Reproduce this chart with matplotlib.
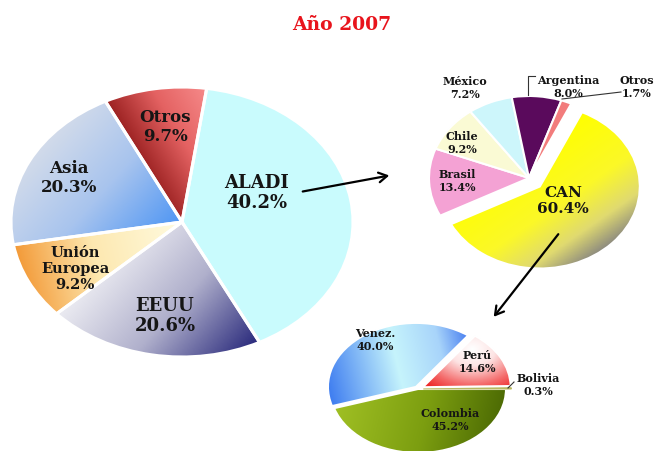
#!/usr/bin/env python3

import numpy as np
import matplotlib
matplotlib.use('Agg')
import matplotlib.pyplot as plt
from matplotlib.colors import LinearSegmentedColormap


# ---- data ----
main_names = ['ALADI', 'EEUU', 'Unión\nEuropea', 'Asia', 'Otros']
main_vals = [40.2, 20.6, 9.2, 20.3, 9.7]

aladi_names = ['CAN', 'Brasil', 'Chile', 'México', 'Argentina', 'Otros']
aladi_vals = [60.4, 13.4, 9.2, 7.2, 8.0, 1.7]

can_names = ['Colombia', 'Venez.', 'Perú', 'Bolivia']
can_vals = [45.2, 40.0, 14.6, 0.3]

W, H = 656, 452
FONT = 'DejaVu Serif'
TXT = '#151515'

fig = plt.figure(figsize=(W / 100, H / 100), dpi=100)
fig.patch.set_facecolor('white')

# overlay axes in pixel coords for title, labels, arrows
ax_bg = fig.add_axes([0, 0, 1, 1])
ax_bg.set_xlim(0, W)
ax_bg.set_ylim(H, 0)
ax_bg.axis('off')
ax_bg.set_zorder(5)
ax_bg.patch.set_alpha(0)


def pie_axes(cx, cy, rx, ry, pad=1.35):
  ax = fig.add_axes([(cx - rx * pad) / W, (H - (cy + ry * pad)) / H,
                     2 * rx * pad / W, 2 * ry * pad / H])
  return ax, pad


def finish(ax, pad):
  ax.set_xlim(-pad, pad)
  ax.set_ylim(-pad, pad)
  ax.set_aspect('auto')
  ax.axis('off')


def grad_fill(ax, wedge, stops, angle, pad, radial=None):
  xs = np.linspace(-pad, pad, 300)
  X, Y = np.meshgrid(xs, xs)
  if radial is None:
    th = np.deg2rad(angle)
    d = np.array([np.cos(th), np.sin(th)])
    verts = wedge.get_patch_transform().transform(wedge.get_path().vertices)
    proj = verts @ d
    lo, hi = proj.min(), proj.max()
    t = ((X * d[0] + Y * d[1]) - lo) / (hi - lo)
  else:
    (px, py), rmax = radial
    t = np.hypot(X - px, Y - py) / rmax
  cmap = LinearSegmentedColormap.from_list('g', stops)
  im = ax.imshow(np.clip(t, 0, 1), extent=(-pad, pad, -pad, pad), origin='lower',
                 cmap=cmap, vmin=0, vmax=1, aspect='auto', interpolation='bilinear',
                 zorder=0.5)
  im.set_clip_path(wedge)
  wedge.set_facecolor('none')


def label(x, y, name, val, size):
  ax_bg.text(x, y, '{}\n{:.1f}%'.format(name, val), ha='center', va='center',
             family=FONT, weight='bold', fontsize=size, color=TXT, linespacing=1.15)


# ---- title ----
ax_bg.text(342, 25, 'Año 2007', ha='center', va='center', family=FONT,
           weight='bold', fontsize=13.5, color='#e8141c')

# ---- main pie ----
ax1, p1 = pie_axes(182, 223, 171, 135)
main_cols = ['#c9fbfd', '#8888b0', '#ffe8a0', '#90b8f0', '#d05050']
w1, _ = ax1.pie(main_vals, colors=main_cols, startangle=81.7, counterclock=False,
                wedgeprops=dict(edgecolor='white', linewidth=2.2))
grad_fill(ax1, w1[1], ['#ececf2', '#b0b0cc', '#2a2a7c'], -35, p1)
grad_fill(ax1, w1[2], [(0, '#f39a38'), (0.45, '#fde8b0'), (1, '#fffbe0')], 10, p1)
grad_fill(ax1, w1[3], ['#d4dcea', '#a8c4ee', '#4f96f4'], -35, p1)
grad_fill(ax1, w1[4], ['#9c2222', '#e46262', '#f68a8a'], 25, p1)
finish(ax1, p1)

label(257, 193, main_names[0], main_vals[0], 13)
label(165, 316, main_names[1], main_vals[1], 13)
label(75, 269, main_names[2], main_vals[2], 10.5)
label(69, 178, main_names[3], main_vals[3], 12)
label(165, 127, main_names[4], main_vals[4], 12)

# ---- ALADI pie ----
ax2, p2 = pie_axes(529, 179, 100, 82)
aladi_cols = ['#ffff00', '#f4a2d4', '#fafad4', '#cdf6fb', '#5a0a5c', '#f27c7c']
w2, _ = ax2.pie(aladi_vals, colors=aladi_cols, startangle=65, counterclock=False,
                explode=[0.15, 0, 0, 0, 0, 0],
                wedgeprops=dict(edgecolor='white', linewidth=1.5))
grad_fill(ax2, w2[0], [(0, '#ffff00'), (0.5, '#fbf828'), (0.78, '#e0da70'), (1, '#8a8880')], -50, p2)
finish(ax2, p2)

label(563, 201, aladi_names[0], aladi_vals[0], 11)
label(457, 181, aladi_names[1], aladi_vals[1], 8)
label(462, 143, aladi_names[2], aladi_vals[2], 8)
label(465, 88, aladi_names[3], aladi_vals[3], 8)
label(568, 87, aladi_names[4], aladi_vals[4], 8)
label(637, 87, aladi_names[5], aladi_vals[5], 8)

# leader lines
ax_bg.plot([528, 528, 535], [96, 77, 77], color='#333333', lw=0.8)
ax_bg.plot([562, 621], [100, 93], color='#333333', lw=0.8)

# ---- CAN pie ----
ax3, p3 = pie_axes(418, 390, 88, 64)
can_cols = ['#7a9c10', '#90c0f8', '#f8a0a0', '#c8c870']
w3, _ = ax3.pie(can_vals, colors=can_cols, startangle=0, counterclock=False,
                explode=[0, 0.04, 0.06, 0.06],
                wedgeprops=dict(edgecolor='white', linewidth=1.5))
grad_fill(ax3, w3[0], [(0, '#a0c024'), (0.55, '#7c9e10'), (1, '#4c6a04')], -10, p3)
grad_fill(ax3, w3[1], [(0, '#3b7af0'), (0.5, '#c6f4fc'), (0.8, '#a8d4fa'), (1, '#4a80f0')], 10, p3)
grad_fill(ax3, w3[2], [(0, '#ffffff'), (0.35, '#fde4e4'), (0.75, '#f46a6a'), (1, '#ee2c2c')], 0, p3,
          radial=((0.62, 0.62), 0.75))
w3[3].set_edgecolor('#b8b860')
w3[3].set_linewidth(0.8)
finish(ax3, p3)

label(450, 420, can_names[0], can_vals[0], 8)
label(375, 340, can_names[1], can_vals[1], 8)
label(477, 362, can_names[2], can_vals[2], 8)
label(538, 385, can_names[3], can_vals[3], 8)
ax_bg.plot([508, 514], [389, 383], color='#333333', lw=0.8)

# ---- arrows ----
ax_bg.annotate('', xy=(392, 176), xytext=(300, 193),
               arrowprops=dict(arrowstyle='->,head_length=0.6,head_width=0.35',
                               color='black', lw=1.6))
ax_bg.annotate('', xy=(492, 320), xytext=(560, 233),
               arrowprops=dict(arrowstyle='->,head_length=0.6,head_width=0.35',
                               color='black', lw=1.6))

fig.savefig('out.png', dpi=100)
